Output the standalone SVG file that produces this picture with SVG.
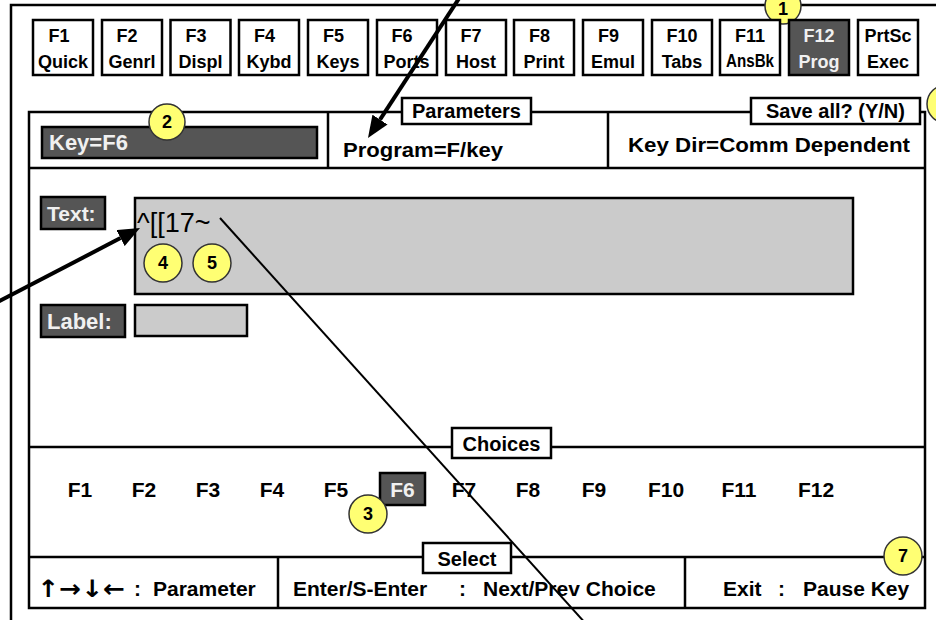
<svg xmlns="http://www.w3.org/2000/svg" width="936" height="620" viewBox="0 0 936 620">
<style>
text{font-family:"Liberation Sans",Arial,sans-serif;font-weight:bold;fill:#000}
.tab{fill:#fff;stroke:#000;stroke-width:2.5}
.tabsel{fill:#555;stroke:#000;stroke-width:2.5}
.t18{font-size:18px;text-anchor:middle}
.wt{fill:#f0f0f0}
.lbl{fill:#fff;stroke:#000;stroke-width:2.5}
.dark{fill:#555;stroke:#000;stroke-width:2.5}
.field{fill:#cbcbcb;stroke:#000;stroke-width:2.5}
.ln{stroke:#000;stroke-width:2.5;fill:none}
.f20{font-size:20px}
.f21{font-size:21px}
.f22{font-size:22px}
.ck{font-size:21px;text-anchor:middle}
.badge circle{fill:#ffff73;stroke:#333;stroke-width:1.5}
.badge text{font-size:18px;text-anchor:middle}
</style>
<defs>
<marker id="ah" viewBox="0 0 22 18" refX="0" refY="9" markerWidth="22" markerHeight="18" markerUnits="userSpaceOnUse" orient="auto">
<path d="M0,0 L22,9 L0,18 z" fill="#000"/>
</marker>
</defs>
<rect width="936" height="620" fill="#fff"/>
<!-- outer frame -->
<path class="ln" d="M11,622 V5 H940"/>
<!-- badge 1 (behind tabs) -->
<g id="b1" class="badge"><circle cx="783" cy="6" r="18"/><text x="783" y="15">1</text></g>
<!-- tabs -->
<g id="tabF1"><rect class="tab" x="33" y="20" width="60" height="55"/><text class="t18" x="59" y="42">F1</text><text class="t18" x="63" y="68">Quick</text></g>
<g id="tabF2"><rect class="tab" x="102" y="20" width="60" height="55"/><text class="t18" x="127" y="42">F2</text><text class="t18" x="132" y="68">Genrl</text></g>
<g id="tabF3"><rect class="tab" x="170.5" y="20" width="60" height="55"/><text class="t18" x="196" y="42">F3</text><text class="t18" x="200.5" y="68">Displ</text></g>
<g id="tabF4"><rect class="tab" x="239" y="20" width="60" height="55"/><text class="t18" x="264.5" y="42">F4</text><text class="t18" x="269" y="68">Kybd</text></g>
<g id="tabF5"><rect class="tab" x="308" y="20" width="60" height="55"/><text class="t18" x="333.5" y="42">F5</text><text class="t18" x="338" y="68">Keys</text></g>
<g id="tabF6"><rect class="tab" x="377" y="20" width="60" height="55"/><text class="t18" x="402" y="42">F6</text><text class="t18" x="406.5" y="68">Ports</text></g>
<g id="tabF7"><rect class="tab" x="446" y="20" width="60" height="55"/><text class="t18" x="471" y="42">F7</text><text class="t18" x="476" y="68">Host</text></g>
<g id="tabF8"><rect class="tab" x="514" y="20" width="60" height="55"/><text class="t18" x="539.5" y="42">F8</text><text class="t18" x="544" y="68">Print</text></g>
<g id="tabF9"><rect class="tab" x="583" y="20" width="60" height="55"/><text class="t18" x="608.5" y="42">F9</text><text class="t18" x="613" y="68">Emul</text></g>
<g id="tabF10"><rect class="tab" x="652" y="20" width="60" height="55"/><text class="t18" x="682" y="42">F10</text><text class="t18" x="682" y="68">Tabs</text></g>
<g id="tabF11"><rect class="tab" x="720" y="20" width="60" height="55"/><text class="t18" x="750" y="42">F11</text><text class="t18" x="750" y="67" textLength="48" lengthAdjust="spacingAndGlyphs">AnsBk</text></g>
<g id="tabF12"><rect class="tabsel" x="789" y="20" width="60" height="55"/><text class="t18 wt" x="819" y="42">F12</text><text class="t18 wt" x="819" y="68">Prog</text></g>
<g id="tabPrtSc"><rect class="tab" x="858" y="20" width="60" height="55"/><text class="t18" x="888" y="42">PrtSc</text><text class="t18" x="888" y="68">Exec</text></g>
<!-- main panel -->
<g id="panel">
<rect class="ln" x="29" y="112" width="896" height="496"/>
<path class="ln" d="M29,168 H925 M328,112 V168 M608,112 V168 M29,447 H925 M29,557 H925 M278,557 V608 M685,557 V608"/>
</g>
<g id="paramsLabel"><rect class="lbl" x="402" y="98" width="129" height="26"/><text class="f20" x="466.5" y="118" text-anchor="middle">Parameters</text></g>
<g id="saveLabel"><rect class="lbl" x="751" y="98" width="169" height="26"/><text class="f20" x="835.5" y="118" text-anchor="middle">Save all? (Y/N)</text></g>
<g id="keyField"><rect class="dark" x="42" y="127" width="275" height="31"/><text class="f22 wt" x="49" y="150">Key=F6</text></g>
<g id="b2" class="badge"><circle cx="167" cy="122" r="18"/><text x="167" y="128">2</text></g>
<g id="program"><text class="f21" x="343" y="157" textLength="160" lengthAdjust="spacingAndGlyphs">Program=F/key</text></g>
<g id="keyDir"><text class="f21" x="628" y="152" textLength="282" lengthAdjust="spacingAndGlyphs">Key Dir=Comm Dependent</text></g>
<g id="b6" class="badge"><circle cx="946" cy="104" r="19"/></g>
<!-- text field -->
<g id="textLabel"><rect class="dark" x="41" y="197" width="64" height="32"/><text class="f21 wt" x="47" y="221">Text:</text></g>
<g id="textField"><rect class="field" x="135" y="198" width="718" height="96"/><text x="137" y="232" style="font-weight:normal;font-size:27px">^[[17~</text></g>
<g id="b4" class="badge"><circle cx="163" cy="263" r="19"/><text x="163" y="269">4</text></g>
<g id="b5" class="badge"><circle cx="212" cy="263" r="19"/><text x="212" y="269">5</text></g>
<g id="labelLabel"><rect class="dark" x="41" y="305" width="84" height="32"/><text class="f22 wt" x="47" y="329">Label:</text></g>
<g id="labelField"><rect class="field" x="135" y="305" width="112" height="31"/></g>
<!-- choices -->
<g id="choicesLabel"><rect class="lbl" x="452" y="428" width="99" height="30"/><text class="f20" x="501.5" y="451" text-anchor="middle">Choices</text></g>
<g id="choices">
<text class="ck" x="80" y="497">F1</text>
<text class="ck" x="144" y="497">F2</text>
<text class="ck" x="208" y="497">F3</text>
<text class="ck" x="272" y="497">F4</text>
<text class="ck" x="336" y="497">F5</text>
<rect class="dark" x="380" y="473" width="45" height="32"/>
<text class="ck wt" x="402.5" y="497">F6</text>
<text class="ck" x="464" y="497">F7</text>
<text class="ck" x="528" y="497">F8</text>
<text class="ck" x="594" y="497">F9</text>
<text class="ck" x="666" y="497">F10</text>
<text class="ck" x="739" y="497">F11</text>
<text class="ck" x="816" y="497">F12</text>
</g>
<g id="b3" class="badge"><circle cx="368" cy="514" r="19"/><text x="368" y="520">3</text></g>
<!-- select -->
<g id="selectLabel"><rect class="lbl" x="423" y="543" width="88" height="30"/><text class="f20" x="467" y="566" text-anchor="middle">Select</text></g>
<g id="bottom">
<text x="37" y="597" style="font-family:'DejaVu Sans',sans-serif;font-weight:bold;font-size:24px" textLength="88" lengthAdjust="spacingAndGlyphs">↑→↓←</text>
<text class="f21" x="134" y="596">:</text>
<text class="f21" x="153" y="596">Parameter</text>
<text class="f21" x="293" y="596">Enter/S-Enter</text>
<text class="f21" x="459" y="596">:</text>
<text class="f21" x="483" y="596">Next/Prev Choice</text>
<text class="f21" x="723" y="596">Exit</text>
<text class="f21" x="778" y="596">:</text>
<text class="f21" x="803" y="596">Pause Key</text>
</g>
<g id="b7" class="badge"><circle cx="903" cy="556" r="19"/><text x="903" y="562">7</text></g>
<!-- connectors -->
<g id="connectors">
<line x1="464.5" y1="-10" x2="380" y2="119.6" stroke="#000" stroke-width="4" marker-end="url(#ah)"/>
<line x1="-10" y1="306" x2="120.5" y2="238.1" stroke="#000" stroke-width="4" marker-end="url(#ah)"/>
<line x1="220" y1="218" x2="587" y2="625" stroke="#000" stroke-width="2"/>
</g>
</svg>
